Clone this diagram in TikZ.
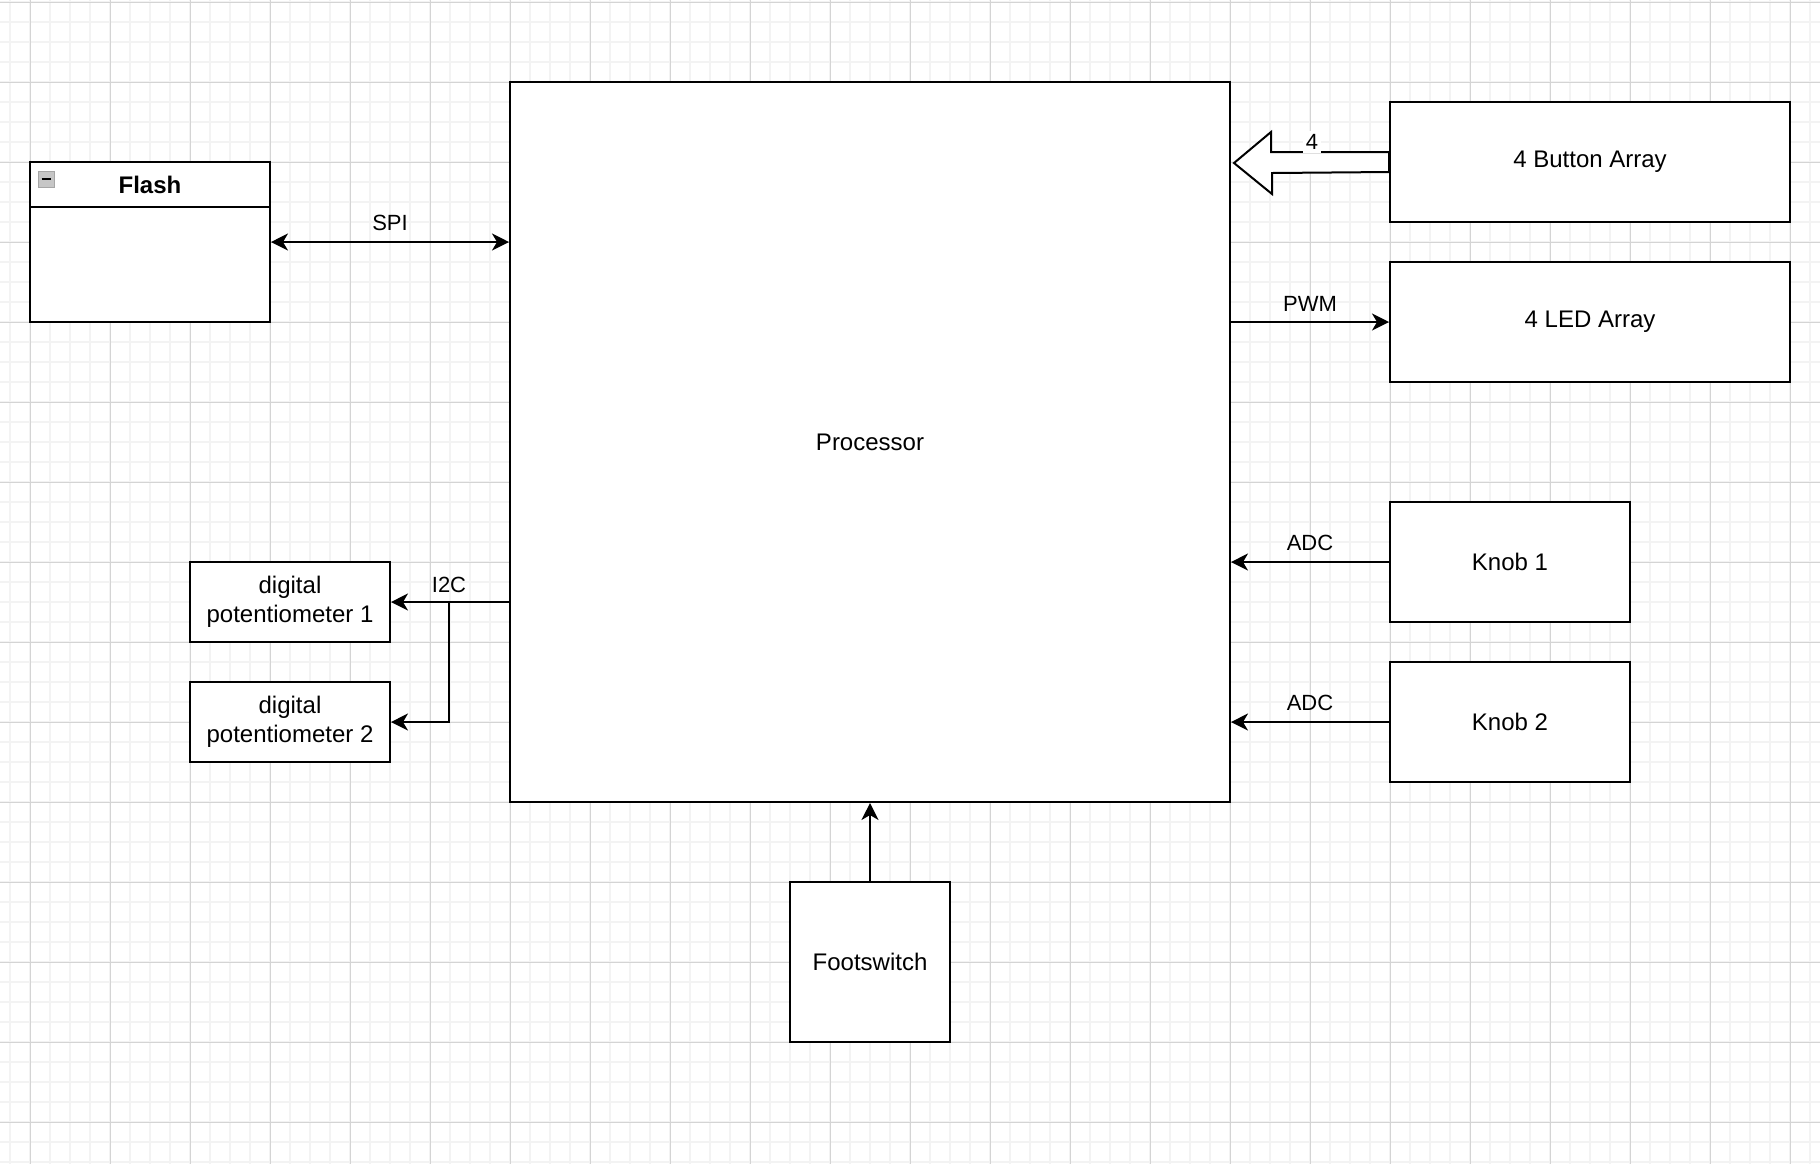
\documentclass[tikz,border=0pt]{standalone}
\usepackage{fontspec}
\setmainfont{Liberation Sans}
\usepackage{tikz}
\usetikzlibrary{positioning}
\usetikzlibrary{calc}
\usetikzlibrary{arrows.meta}

\definecolor{gridMinor}{HTML}{F3F3F3}
\definecolor{gridMajor}{HTML}{D4D4D4}

\begin{document}
\begin{tikzpicture}[
    x=0.5pt, y=-0.5pt, % one unit is one pixel, y grows downwards
    >={Stealth[length=8.5pt, width=8.5pt, inset=2.5pt]}, % arrow head style
    % Styling for the blocks
    blockNode/.style={
        rectangle,
        draw,
        line width=1pt,
        fill=white,
        align=center,
        inner sep=0pt,
        font=\fontsize{12}{14.4}\selectfont
    },
    wire/.style={line width=1pt},
    wireLabel/.style={font=\fontsize{11}{13}\selectfont, inner sep=1pt}
]
    \useasboundingbox (0,0) rectangle (1820,1164);

    % Background grid
    \foreach \gx in {10,30,...,1810}
        \draw[gridMinor, line width=0.6pt] (\gx,0) -- (\gx,1164);
    \foreach \gy in {2,22,...,1162}
        \draw[gridMinor, line width=0.6pt] (0,\gy) -- (1820,\gy);
    \foreach \gx in {30,110,...,1790}
        \draw[gridMajor, line width=0.5pt] (\gx,0) -- (\gx,1164);
    \foreach \gy in {2,82,...,1162}
        \draw[gridMajor, line width=0.5pt] (0,\gy) -- (1820,\gy);

    % Define Nodes
    \node[blockNode, minimum width=360pt, minimum height=360pt] (proc) at (870,442) {Processor};
    \node[blockNode, minimum width=120pt, minimum height=80pt] (flash) at (150,242) {};
    \node[blockNode, minimum width=200pt, minimum height=60pt] (buttons) at (1590,162) {4 Button Array};
    \node[blockNode, minimum width=200pt, minimum height=60pt] (leds) at (1590,322) {4 LED Array};
    \node[blockNode, minimum width=120pt, minimum height=60pt] (knob1) at (1510,562) {Knob 1};
    \node[blockNode, minimum width=120pt, minimum height=60pt] (knob2) at (1510,722) {Knob 2};
    \node[blockNode, minimum width=80pt, minimum height=80pt] (foot) at (870,962) {Footswitch};
    \node[blockNode, minimum width=100pt, minimum height=40pt] (pot1) at (290,602) {digital\\potentiometer 1};
    \node[blockNode, minimum width=100pt, minimum height=40pt] (pot2) at (290,722) {digital\\potentiometer 2};

    % Flash header
    \draw[line width=1pt] ($(flash.north west)+(0,46)$) -- ($(flash.north east)+(0,46)$);
    \node[font=\fontsize{12}{14.4}\selectfont\bfseries] (flashTitle) at (150,185) {Flash};
    \node[draw=gray!70, fill=gray!45, minimum size=8pt, inner sep=0pt] (flashIcon) at (46,179) {};
    \draw[line width=1pt] ($(flashIcon.center)+(-4.5,0)$) -- ($(flashIcon.center)+(4.5,0)$);

    % Draw Edges
    \draw[wire, <->] (flash.east) -- (flash.east -| proc.west)
        node[wireLabel, midway, above=4pt] {SPI};
    \draw[wire, ->] (leds.west -| proc.east) -- (leds.west)
        node[wireLabel, midway, above=4pt] {PWM};
    \draw[wire, ->] (knob1.west) -- (knob1.west -| proc.east)
        node[wireLabel, midway, above=4pt] {ADC};
    \draw[wire, ->] (knob2.west) -- (knob2.west -| proc.east)
        node[wireLabel, midway, above=4pt] {ADC};
    \draw[wire, ->] (foot.north) -- (proc.south);

    % I2C bus
    \coordinate (i2cJoin) at (449,602);
    \draw[wire, ->] (pot1.east -| proc.west) -- (pot1.east);
    \draw[wire, ->] (i2cJoin) |- (pot2.east);
    \node[wireLabel] (i2cLabel) at (449,585) {I2C};

    % Wide arrow from the buttons
    \draw[wire, fill=white, line join=miter]
        (buttons.west) ++(0,-10) -- ++(-118,0) -- ++(0,-20) -- (1234,163)
        -- (1272,194) -- (1272,173) -- ($(buttons.west)+(0,10)$) -- cycle;
    \node[wireLabel, fill=white, inner sep=1.5pt] (buttonsLabel) at (1312,142) {4};

\end{tikzpicture}
\end{document}
